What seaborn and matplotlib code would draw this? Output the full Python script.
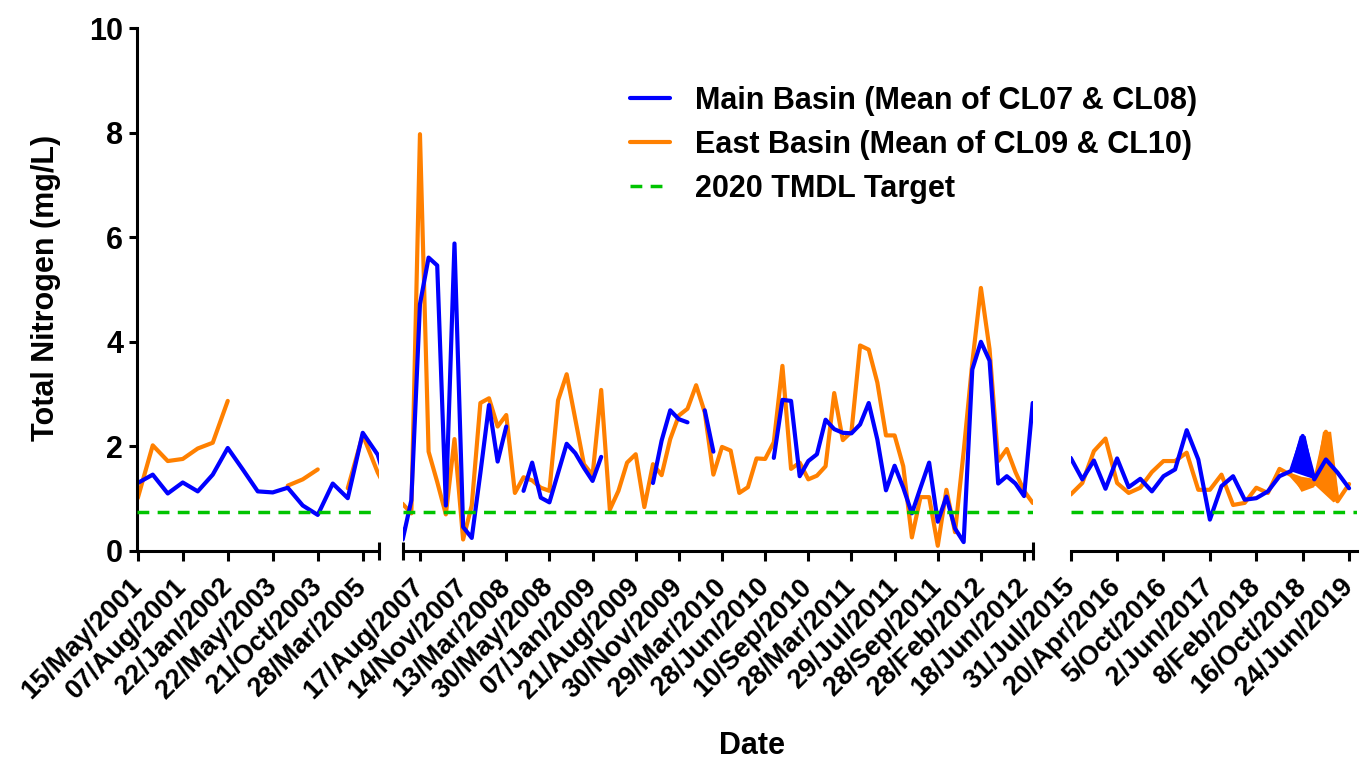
import numpy as np
import pandas as pd
import matplotlib
matplotlib.use("Agg")
import matplotlib.pyplot as plt
import seaborn as sns
from matplotlib.lines import Line2D

NA = np.nan

# ---------------- data (sample index within each axis segment) ----------------
target = 0.74

seg1_start = 0
seg1_ticks = ["15/May/2001", "07/Aug/2001", "22/Jan/2002", "22/May/2003",
              "21/Oct/2003", "28/Mar/2005"]
seg1_main = [1.30, 1.46, 1.10, 1.31, 1.14, 1.46, 1.97, 1.56, 1.14, 1.12, 1.21,
             0.87, 0.69, 1.29, 1.01, 2.26, 1.84, 0.90]
seg1_east = [1.01, 2.02, 1.72, 1.76, 1.96, 2.07, 2.87, NA, NA, NA, 1.25, 1.37,
             1.56, NA, 1.20, 2.22, 1.50, 0.95]

seg2_start = -3
seg2_ticks = ["17/Aug/2007", "14/Nov/2007", "13/Mar/2008", "30/May/2008",
              "07/Jan/2009", "21/Aug/2009", "30/Nov/2009", "29/Mar/2010",
              "28/Jun/2010", "10/Sep/2010", "28/Mar/2011", "29/Jul/2011",
              "28/Sep/2011", "28/Feb/2012", "18/Jun/2012"]
seg2_main = [1.40, 0.22, 0.97,
             4.72, 5.61, 5.46, 0.87, 5.88, 0.46, 0.25, 1.49, 2.79, 1.71,
             2.38, NA, 1.15, 1.69, 1.02, 0.93, 1.49, 2.05, 1.87, 1.59,
             1.34, 1.80, NA, NA, NA, NA, NA, 1.30, 2.11, 2.69, 2.52, 2.46,
             NA, 2.69, 1.90, NA, NA, NA, NA, NA, NA, 1.78, 2.89, 2.87,
             1.43, 1.72, 1.85, 2.51, 2.33, 2.26, 2.25, 2.42, 2.83, 2.13,
             1.16, 1.63, 1.21, 0.72, 1.21, 1.69, 0.56, 1.04, 0.43, 0.17,
             3.47, 4.00, 3.64, 1.29, 1.43, 1.29, 1.05, 2.83, 2.60]
seg2_east = [1.00, 0.90, 0.72,
             7.97, 1.90, 1.32, 0.70, 2.14, 0.22, 0.87, 2.83, 2.92, 2.38,
             2.60, 1.11, 1.41, 1.35, 1.21, 1.15, 2.88, 3.38, 2.52, 1.66,
             1.45, 3.08, 0.79, 1.15, 1.69, 1.85, 0.84, 1.66, 1.45, 2.14,
             2.59, 2.72, 3.17, 2.65, 1.46, 1.99, 1.92, 1.11, 1.22, 1.77,
             1.76, 2.08, 3.54, 1.57, 1.69, 1.37, 1.44, 1.62, 3.02, 2.12,
             2.28, 3.93, 3.85, 3.22, 2.21, 2.21, 1.62, 0.26, 1.03, 1.03,
             0.10, 1.17, 0.36, 1.90, 3.60, 5.03, 3.86, 1.72, 1.95, 1.51,
             1.15, 0.92, 0.90]

seg3_start = 0
seg3_ticks = ["31/Jul/2015", "20/Apr/2016", "5/Oct/2016", "2/Jun/2017",
              "8/Feb/2018", "16/Oct/2018", "24/Jun/2019"]
seg3_main = [1.78, 1.37, 1.73, 1.19, 1.77, 1.22, 1.38, 1.14, 1.43, 1.56, 2.31,
             1.75, 0.60, 1.24, 1.43, 0.98, 1.01, 1.14, 1.43, 1.53, 2.20, 1.37,
             1.75, 1.50, 1.20]
seg3_east = [1.08, 1.30, 1.91, 2.15, 1.30, 1.11, 1.21, 1.51, 1.72, 1.72, 1.88,
             1.17, 1.17, 1.46, 0.88, 0.92, 1.21, 1.11, 1.57, 1.45, 1.20, 1.28,
             2.28, 0.95, 1.28]
# dense repeated samples late 2018 (drawn as filled wedges)
seg3_main_dense_idx = [18.9, 19.75, 20.25, 21.05]
seg3_main_dense_val = [1.53, 2.20, 2.20, 1.37]
seg3_east_dense_idx = [21.0, 21.75, 22.45, 23.15, 22.65]
seg3_east_dense_val = [1.27, 2.28, 2.28, 0.98, 0.93]
seg3_east_dense2_idx = [18.9, 19.9, 21.0, 21.0, 19.9]
seg3_east_dense2_val = [1.50, 1.13, 1.22, 1.38, 1.42]

labels = ["Main Basin (Mean of CL07 & CL08)",
          "East Basin (Mean of CL09 & CL10)",
          "2020 TMDL Target"]
c_main, c_east, c_target = "#0000FF", "#FF8000", "#00C400"

# ---------------- style ----------------
sns.set_theme(style="ticks")
plt.rcParams["font.family"] = ["Liberation Sans", "DejaVu Sans"]
plt.rcParams.update({
    "font.weight": "bold",
    "axes.labelweight": "bold",
    "axes.linewidth": 2.2,
    "text.color": "black",
    "axes.labelcolor": "black",
    "axes.edgecolor": "black",
    "xtick.color": "black",
    "ytick.color": "black",
})

W, H = 1371, 763
fig = plt.figure(figsize=(W / 100, H / 100), dpi=100)

LW = 3.0
bottom = 1 - 551 / H
height = (551 - 28) / H
segments = [
    dict(rect=[137 / W, bottom, 242.25 / W, height], xlim=(-0.05, 16.1),
         start=seg1_start, main=seg1_main, east=seg1_east, ticks=seg1_ticks,
         step=3, caps=[16.1]),
    dict(rect=[402.7 / W, bottom, 630.0 / W, height], xlim=(-2.0, 71.0),
         start=seg2_start, main=seg2_main, east=seg2_east, ticks=seg2_ticks,
         step=5, caps=[-2.0, 71.0]),
    dict(rect=[1070.7 / W, bottom, 286.5 / W, height], xlim=(0.0, 24.7),
         start=seg3_start, main=seg3_main, east=seg3_east, ticks=seg3_ticks,
         step=4, caps=[0.0]),
]


def to_runs(values, start):
    rows, run, gap = [], 0, True
    for i, v in enumerate(values):
        if np.isnan(v):
            gap = True
            continue
        if gap:
            run += 1
        gap = False
        rows.append((start + i, v, run))
    return pd.DataFrame(rows, columns=["idx", "value", "run"])


for k, seg in enumerate(segments):
    ax = fig.add_axes(seg["rect"])
    sns.lineplot(data=to_runs(seg["east"], seg["start"]), x="idx", y="value",
                 units="run", estimator=None, sort=False, color=c_east,
                 linewidth=LW, ax=ax, zorder=2)
    if k == 2:
        ax.fill(seg3_east_dense_idx, seg3_east_dense_val, color=c_east, lw=0, zorder=2)
        ax.fill(seg3_east_dense2_idx, seg3_east_dense2_val, color=c_east, lw=0, zorder=2)
    sns.lineplot(data=to_runs(seg["main"], seg["start"]), x="idx", y="value",
                 units="run", estimator=None, sort=False, color=c_main,
                 linewidth=LW, ax=ax, zorder=2.5)
    if k == 2:
        ax.fill(seg3_main_dense_idx, seg3_main_dense_val, color=c_main, lw=0, zorder=2.5)
    ax.axhline(target, color=c_target, lw=2.5, ls=(0, (3.4, 2.4)), zorder=3)

    ax.set_xlim(*seg["xlim"])
    ax.set_ylim(0, 10)
    ax.set_xlabel("")
    ax.set_ylabel("")
    ax.set_facecolor("none")
    for s in ["top", "right"]:
        ax.spines[s].set_visible(False)
    ticks = [i * seg["step"] for i in range(len(seg["ticks"]))]
    ax.set_xticks(ticks)
    ax.set_xticklabels(seg["ticks"], rotation=45, ha="right", va="center",
                       rotation_mode="anchor", fontsize=19.5, fontweight="bold",
                       color="black")
    ax.set_xticks(seg["caps"], minor=True)
    ax.tick_params(axis="x", which="major", direction="out", length=7,
                   width=2.2, color="black", pad=16)
    ax.tick_params(axis="x", which="minor", direction="inout", length=13,
                   width=2.2, color="black")
    if k == 0:
        ax.set_yticks([0, 2, 4, 6, 8, 10])
        ax.tick_params(axis="y", direction="out", length=6, width=2.2,
                       color="black", labelsize=22, pad=4)
        for t in ax.get_yticklabels():
            t.set_fontweight("bold")
            t.set_color("black")
    else:
        ax.spines["left"].set_visible(False)
        ax.tick_params(axis="y", left=False, labelleft=False)
    ax.grid(False)

fig.text(0.0335, 1 - 288 / H, "Total Nitrogen (mg/L)", rotation=90,
         ha="center", va="center", fontsize=22, fontweight="bold", color="black")
fig.text(751.5 / W, 1 - 746 / H, "Date", ha="center", va="center",
         fontsize=22, fontweight="bold", color="black")

handles = [Line2D([], [], color=c_main, lw=LW),
           Line2D([], [], color=c_east, lw=LW),
           Line2D([], [], color=c_target, lw=2.5, ls=(0, (3.4, 2.4)))]
fig.legend(handles, labels, loc="upper left", bbox_to_anchor=(630 / W, 1 - 86 / H),
           frameon=False, borderpad=0, borderaxespad=0, handlelength=1.31,
           handletextpad=0.82, labelspacing=0.46,
           prop={"size": 22, "weight": "bold"}, labelcolor="black")

fig.savefig("out.png", dpi=100)
